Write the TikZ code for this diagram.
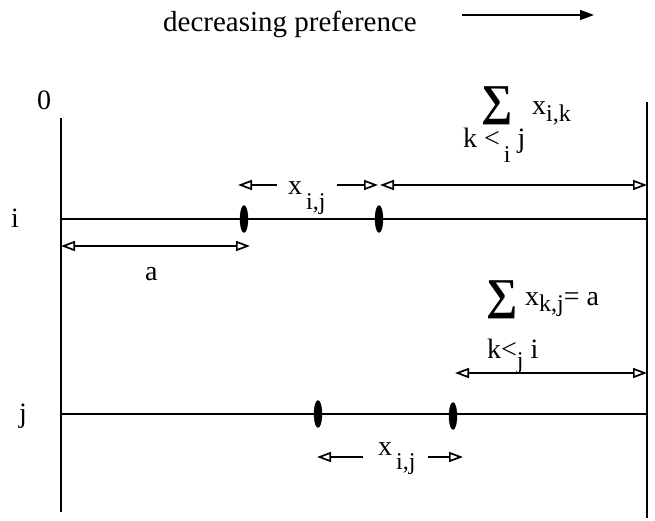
\documentclass[tikz,border=0pt]{standalone}
\usepackage{fontspec}
\setmainfont{Liberation Serif}
\usetikzlibrary{arrows.meta, positioning, shapes.geometric}

\newcommand{\lowsub}[2][15pt]{\raisebox{-#1}{\fontsize{24}{24}\selectfont #2}}
\newcommand{\bigsum}{{\fontsize{44}{44}\selectfont\bfseries ∑}}

\begin{document}
\begin{tikzpicture}[x=1pt, y=-1pt,
  lbl/.style = {inner sep=0pt, anchor=base west, font=\fontsize{28}{30}\selectfont},
  pref/.style = {draw, ellipse, fill=black, minimum width=8pt, minimum height=27pt, inner sep=0pt},
  span/.style = {{Triangle[open,length=14pt,width=10pt]}-{Triangle[open,length=14pt,width=10pt]}, line width=1.7pt},
  half/.style = {-{Triangle[open,length=14pt,width=10pt]}, line width=1.7pt} ]

\useasboundingbox (0,0) rectangle (655,521);

% title
\node[lbl, font=\fontsize{29}{31}\selectfont] (title) at (163,32) {decreasing preference};
\coordinate (pa) at (462,15);
\coordinate (pb) at (594,15);
\draw[-{Triangle[length=14pt,width=10pt]}, line width=1.7pt] (pa) -- (pb);

%--- the two borders ---
\coordinate (top0) at (61,118);
\coordinate (bot0) at (61,512);
\coordinate (top1) at (647,102);
\coordinate (bot1) at (647,518);
\draw[line width=2.2pt] (top0) -- (bot0);
\draw[line width=2.2pt] (top1) -- (bot1);
\node[lbl] (zero) at (37,110) {0};

%--- row i ---
\coordinate (i0) at (61,219);
\coordinate (i1) at (647,219);
\draw[line width=1.7pt] (i0) -- (i1);
\node[lbl] (labi) at (11,227) {i};
\node[pref] (pi1) at (244,219) {};
\node[pref] (pi2) at (379,219) {};

% a
\coordinate (a0) at (61,246);
\coordinate (a1) at (250,246);
\draw[span] (a0) -- (a1);
\node[lbl] (laba) at (145,280) {a};

% x_ij over row i
\node[lbl] (xiju) at (288,195) {x\hspace{4pt}\lowsub{i,j}};
\coordinate (xul) at (277,185);
\coordinate (xul2) at (238,185);
\coordinate (xur) at (337,185);
\coordinate (xur2) at (378,185);
\draw[half] (xul) -- (xul2);
\draw[half] (xur) -- (xur2);

% sum over k <_i j
\coordinate (si0) at (380,185);
\coordinate (si1) at (647,185);
\draw[span] (si0) -- (si1);
\node[inner sep=0pt] (sumi) at (497,106) {\bigsum};
\node[lbl] (xik) at (532,115) {x\lowsub[7pt]{i,k}};
\node[lbl] (ki) at (463,148) {k <\hspace{4pt}\lowsub{i} j};

%--- row j ---
\coordinate (j0) at (61,414);
\coordinate (j1) at (647,414);
\draw[line width=1.7pt] (j0) -- (j1);
\node[lbl] (labj) at (19,422) {j};
\node[pref] (pj1) at (318,414) {};
\node[pref] (pj2) at (453,416) {};

% sum over k <_j i
\coordinate (sj0) at (455,373);
\coordinate (sj1) at (647,373);
\draw[span] (sj0) -- (sj1);
\node[inner sep=0pt] (sumj) at (502,300) {\bigsum};
\node[lbl] (xkj) at (525,305) {x\lowsub[6pt]{k,j}= a};
\node[lbl] (kj) at (487,358) {k<\lowsub[10pt]{j} i};

% x_ij under row j
\node[lbl] (xijd) at (378,455) {x\hspace{4pt}\lowsub[14pt]{i,j}};
\coordinate (xdl) at (363,457);
\coordinate (xdl2) at (317,457);
\coordinate (xdr) at (428,457);
\coordinate (xdr2) at (463,457);
\draw[half] (xdl) -- (xdl2);
\draw[half] (xdr) -- (xdr2);

\end{tikzpicture}
\end{document}
